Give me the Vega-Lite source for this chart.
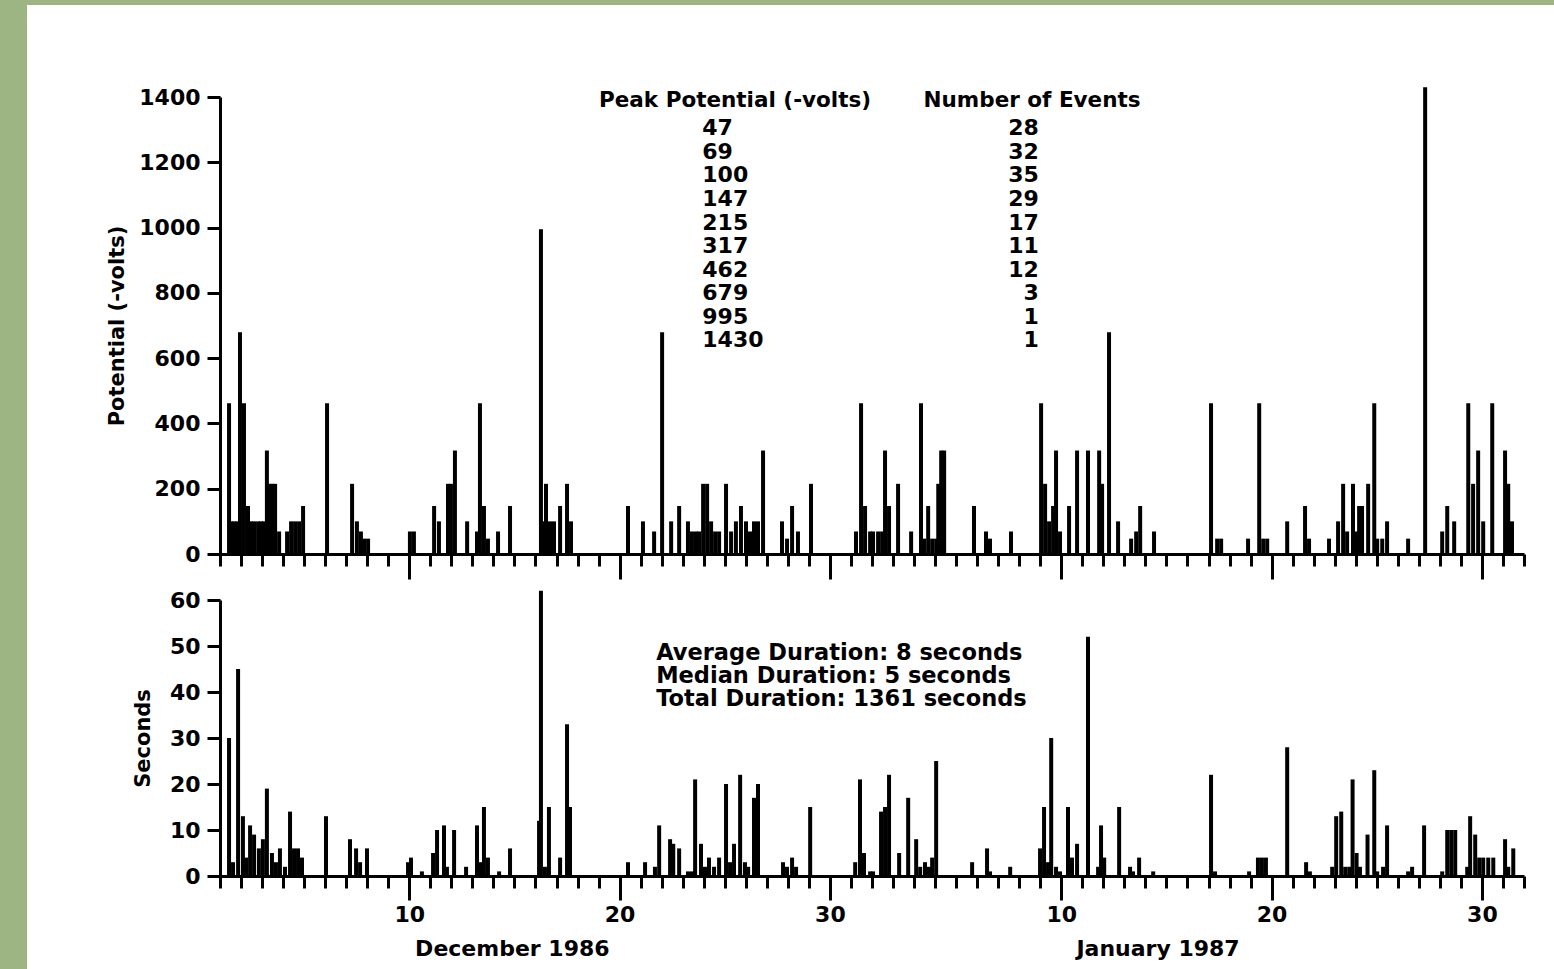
{
  "$schema": "https://vega.github.io/schema/vega-lite/v6.json",
  "padding": 0,
  "background": "white",
  "config": {
    "font": "DejaVu Sans",
    "view": {"stroke": null},
    "axis": {"grid": false, "domainColor": "#000", "domainWidth": 3, "tickColor": "#000", "tickWidth": 3, "labelColor": "#000", "labelFont": "DejaVu Sans", "labelFontSize": 22, "labelFontWeight": "bold", "titleFont": "DejaVu Sans", "titleFontSize": 21, "titleFontWeight": "bold", "titleColor": "#000"},
    "text": {"font": "DejaVu Sans", "fontSize": 22, "fontWeight": "bold", "color": "#000"}
  },
  "datasets": {
    "potential": [
      {"day":1.43,"volts":462},{"day":1.52,"volts":100},{"day":1.67,"volts":100},{"day":1.81,"volts":100},{"day":1.95,"volts":679},{"day":2.14,"volts":462},{"day":2.33,"volts":147},{"day":2.47,"volts":100},{"day":2.62,"volts":100},{"day":2.81,"volts":100},{"day":2.95,"volts":100},{"day":3.09,"volts":100},{"day":3.23,"volts":317},{"day":3.33,"volts":215},{"day":3.47,"volts":215},{"day":3.62,"volts":215},{"day":3.81,"volts":69},{"day":4.19,"volts":69},{"day":4.38,"volts":100},{"day":4.57,"volts":100},{"day":4.76,"volts":100},{"day":4.95,"volts":147},{"day":6.09,"volts":462},{"day":7.28,"volts":215},{"day":7.51,"volts":100},{"day":7.70,"volts":69},{"day":7.85,"volts":47},{"day":8.04,"volts":47},{"day":10.03,"volts":69},{"day":10.22,"volts":69},{"day":11.18,"volts":147},{"day":11.41,"volts":100},{"day":11.84,"volts":215},{"day":11.98,"volts":215},{"day":12.17,"volts":317},{"day":12.75,"volts":100},{"day":13.22,"volts":69},{"day":13.36,"volts":462},{"day":13.55,"volts":147},{"day":13.74,"volts":47},{"day":14.22,"volts":69},{"day":14.79,"volts":147},{"day":16.26,"volts":995},{"day":16.36,"volts":100},{"day":16.50,"volts":215},{"day":16.69,"volts":100},{"day":16.88,"volts":100},{"day":17.17,"volts":147},{"day":17.50,"volts":215},{"day":17.69,"volts":100},{"day":20.40,"volts":147},{"day":21.11,"volts":100},{"day":21.64,"volts":69},{"day":22.02,"volts":679},{"day":22.45,"volts":100},{"day":22.83,"volts":147},{"day":23.25,"volts":100},{"day":23.44,"volts":69},{"day":23.63,"volts":69},{"day":23.78,"volts":69},{"day":23.97,"volts":215},{"day":24.16,"volts":215},{"day":24.35,"volts":100},{"day":24.54,"volts":69},{"day":24.73,"volts":69},{"day":25.06,"volts":215},{"day":25.30,"volts":69},{"day":25.53,"volts":100},{"day":25.77,"volts":147},{"day":26.01,"volts":100},{"day":26.20,"volts":69},{"day":26.39,"volts":100},{"day":26.58,"volts":100},{"day":26.82,"volts":317},{"day":27.72,"volts":100},{"day":27.96,"volts":47},{"day":28.20,"volts":147},{"day":28.48,"volts":69},{"day":29.10,"volts":215},{"day":31.24,"volts":69},{"day":31.48,"volts":462},{"day":31.67,"volts":147},{"day":31.91,"volts":69},{"day":32.05,"volts":69},{"day":32.29,"volts":69},{"day":32.48,"volts":69},{"day":32.62,"volts":317},{"day":32.81,"volts":147},{"day":33.24,"volts":215},{"day":33.86,"volts":69},{"day":34.33,"volts":462},{"day":34.48,"volts":47},{"day":34.67,"volts":147},{"day":34.86,"volts":47},{"day":35.05,"volts":47},{"day":35.15,"volts":215},{"day":35.29,"volts":317},{"day":35.43,"volts":317},{"day":36.85,"volts":147},{"day":37.42,"volts":69},{"day":37.61,"volts":47},{"day":38.61,"volts":69},{"day":40.04,"volts":462},{"day":40.23,"volts":215},{"day":40.42,"volts":100},{"day":40.61,"volts":147},{"day":40.75,"volts":317},{"day":40.94,"volts":69},{"day":41.37,"volts":147},{"day":41.75,"volts":317},{"day":42.27,"volts":317},{"day":42.80,"volts":317},{"day":42.94,"volts":215},{"day":43.27,"volts":679},{"day":43.70,"volts":100},{"day":44.32,"volts":47},{"day":44.56,"volts":69},{"day":44.75,"volts":147},{"day":45.41,"volts":69},{"day":48.12,"volts":462},{"day":48.41,"volts":47},{"day":48.60,"volts":47},{"day":49.88,"volts":47},{"day":50.41,"volts":462},{"day":50.60,"volts":47},{"day":50.79,"volts":47},{"day":51.74,"volts":100},{"day":52.59,"volts":147},{"day":52.78,"volts":47},{"day":53.73,"volts":47},{"day":54.16,"volts":100},{"day":54.40,"volts":215},{"day":54.59,"volts":69},{"day":54.87,"volts":215},{"day":55.06,"volts":69},{"day":55.16,"volts":147},{"day":55.30,"volts":147},{"day":55.59,"volts":215},{"day":55.88,"volts":462},{"day":56.02,"volts":47},{"day":56.26,"volts":47},{"day":56.49,"volts":100},{"day":57.49,"volts":47},{"day":58.30,"volts":1430},{"day":59.11,"volts":69},{"day":59.35,"volts":147},{"day":59.68,"volts":100},{"day":60.35,"volts":462},{"day":60.58,"volts":215},{"day":60.82,"volts":317},{"day":61.06,"volts":100},{"day":61.49,"volts":462},{"day":62.10,"volts":317},{"day":62.25,"volts":215},{"day":62.43,"volts":100}
    ],
    "duration": [
      {"day":1.43,"seconds":30},{"day":1.62,"seconds":3},{"day":1.86,"seconds":45},{"day":2.09,"seconds":13},{"day":2.24,"seconds":4},{"day":2.43,"seconds":11},{"day":2.62,"seconds":9},{"day":2.85,"seconds":6},{"day":3.04,"seconds":8},{"day":3.23,"seconds":19},{"day":3.47,"seconds":5},{"day":3.66,"seconds":3},{"day":3.85,"seconds":6},{"day":4.09,"seconds":2},{"day":4.33,"seconds":14},{"day":4.52,"seconds":6},{"day":4.71,"seconds":6},{"day":4.90,"seconds":4},{"day":6.04,"seconds":13},{"day":7.18,"seconds":8},{"day":7.47,"seconds":6},{"day":7.66,"seconds":3},{"day":7.99,"seconds":6},{"day":9.94,"seconds":3},{"day":10.08,"seconds":4},{"day":10.6,"seconds":1},{"day":11.13,"seconds":5},{"day":11.32,"seconds":10},{"day":11.65,"seconds":11},{"day":11.79,"seconds":2},{"day":12.13,"seconds":10},{"day":12.70,"seconds":2},{"day":13.22,"seconds":11},{"day":13.41,"seconds":3},{"day":13.55,"seconds":15},{"day":13.74,"seconds":4},{"day":14.27,"seconds":1},{"day":14.79,"seconds":6},{"day":16.17,"seconds":12},{"day":16.26,"seconds":62},{"day":16.45,"seconds":2},{"day":16.64,"seconds":15},{"day":17.17,"seconds":4},{"day":17.50,"seconds":33},{"day":17.64,"seconds":15},{"day":20.40,"seconds":3},{"day":21.21,"seconds":3},{"day":21.68,"seconds":2},{"day":21.88,"seconds":11},{"day":22.40,"seconds":8},{"day":22.55,"seconds":7},{"day":22.83,"seconds":6},{"day":23.25,"seconds":1},{"day":23.44,"seconds":1},{"day":23.59,"seconds":21},{"day":23.87,"seconds":7},{"day":24.06,"seconds":2},{"day":24.25,"seconds":4},{"day":24.49,"seconds":2},{"day":24.73,"seconds":4},{"day":25.06,"seconds":20},{"day":25.25,"seconds":3},{"day":25.44,"seconds":7},{"day":25.73,"seconds":22},{"day":25.96,"seconds":3},{"day":26.11,"seconds":2},{"day":26.39,"seconds":17},{"day":26.58,"seconds":20},{"day":27.77,"seconds":3},{"day":27.96,"seconds":2},{"day":28.20,"seconds":4},{"day":28.39,"seconds":2},{"day":29.06,"seconds":15},{"day":31.20,"seconds":3},{"day":31.43,"seconds":21},{"day":31.62,"seconds":5},{"day":31.91,"seconds":1},{"day":32.05,"seconds":1},{"day":32.43,"seconds":14},{"day":32.62,"seconds":15},{"day":32.81,"seconds":22},{"day":33.29,"seconds":5},{"day":33.72,"seconds":17},{"day":34.10,"seconds":8},{"day":34.29,"seconds":2},{"day":34.52,"seconds":3},{"day":34.71,"seconds":2},{"day":34.86,"seconds":4},{"day":35.05,"seconds":25},{"day":36.76,"seconds":3},{"day":37.47,"seconds":6},{"day":37.61,"seconds":1},{"day":38.57,"seconds":2},{"day":39.99,"seconds":6},{"day":40.18,"seconds":15},{"day":40.37,"seconds":3},{"day":40.52,"seconds":30},{"day":40.75,"seconds":2},{"day":40.94,"seconds":1},{"day":41.32,"seconds":15},{"day":41.51,"seconds":4},{"day":41.75,"seconds":7},{"day":42.27,"seconds":52},{"day":42.75,"seconds":2},{"day":42.89,"seconds":11},{"day":43.04,"seconds":4},{"day":43.75,"seconds":15},{"day":44.27,"seconds":2},{"day":44.41,"seconds":1},{"day":44.70,"seconds":4},{"day":45.37,"seconds":1},{"day":48.12,"seconds":22},{"day":48.31,"seconds":1},{"day":49.93,"seconds":1},{"day":50.35,"seconds":4},{"day":50.54,"seconds":4},{"day":50.73,"seconds":4},{"day":51.74,"seconds":28},{"day":52.64,"seconds":3},{"day":52.82,"seconds":1},{"day":53.88,"seconds":2},{"day":54.07,"seconds":13},{"day":54.31,"seconds":14},{"day":54.50,"seconds":2},{"day":54.69,"seconds":2},{"day":54.85,"seconds":21},{"day":55.04,"seconds":5},{"day":55.20,"seconds":2},{"day":55.56,"seconds":9},{"day":55.88,"seconds":23},{"day":56.02,"seconds":1},{"day":56.30,"seconds":2},{"day":56.49,"seconds":11},{"day":57.49,"seconds":1},{"day":57.68,"seconds":2},{"day":58.25,"seconds":11},{"day":59.11,"seconds":1},{"day":59.35,"seconds":10},{"day":59.54,"seconds":10},{"day":59.73,"seconds":10},{"day":60.30,"seconds":2},{"day":60.44,"seconds":13},{"day":60.68,"seconds":9},{"day":60.87,"seconds":4},{"day":61.06,"seconds":4},{"day":61.30,"seconds":4},{"day":61.54,"seconds":4},{"day":62.10,"seconds":8},{"day":62.25,"seconds":2},{"day":62.49,"seconds":6}
    ],
    "levels": [
      {"rank":1,"peak":"47","events":"28"},{"rank":2,"peak":"69","events":"32"},{"rank":3,"peak":"100","events":"35"},{"rank":4,"peak":"147","events":"29"},{"rank":5,"peak":"215","events":"17"},{"rank":6,"peak":"317","events":"11"},{"rank":7,"peak":"462","events":"12"},{"rank":8,"peak":"679","events":"3"},{"rank":9,"peak":"995","events":"1"},{"rank":10,"peak":"1430","events":"1"}
    ]
  },
  "spacing": 0,
  "vconcat": [
    {"width": 1554, "height": 5, "view": {"fill": "#9db583", "stroke": null}, "data": {"values": [{}]}, "mark": {"type": "point", "size": 0, "opacity": 0}},
    {
      "spacing": 79,
      "hconcat": [
        {"width": 27, "height": 964, "view": {"fill": "#9db583", "stroke": null}, "data": {"values": [{}]}, "mark": {"type": "point", "size": 0, "opacity": 0}},
        {
          "spacing": 7,
          "vconcat": [
            {"width": 10, "height": 73, "data": {"values": [{}]}, "mark": {"type": "point", "size": 0, "opacity": 0}},
            {
              "width": 1304,
              "height": 457,
              "resolve": {"scale": {"y": "independent"}},
              "layer": [
                {
                  "layer": [
                    {
                      "data": {"name": "potential"},
                      "mark": {"type": "rule", "strokeWidth": 4, "color": "#000"},
                      "encoding": {
                        "x": {"field": "day", "type": "quantitative", "scale": {"domain": [1, 63], "nice": false, "zero": false},
                          "axis": {"title": null, "labels": false, "tickCount": 100, "values": [1,2,3,4,5,6,7,8,9,10,11,12,13,14,15,16,17,18,19,20,21,22,23,24,25,26,27,28,29,30,31,32,33,34,35,36,37,38,39,40,41,42,43,44,45,46,47,48,49,50,51,52,53,54,55,56,57,58,59,60,61,62,63],
                            "tickSize": {"condition": {"test": "indexof([10,20,30,41,51,61], datum.value) >= 0", "value": 25}, "value": 12}}},
                        "y": {"field": "volts", "type": "quantitative", "scale": {"domain": [0, 1400], "nice": false},
                          "axis": {"title": "Potential (-volts)", "tickCount": 20, "values": [0,200,400,600,800,1000,1200,1400], "format": "d", "tickSize": 13, "labelPadding": 7, "titlePadding": 11}},
                        "y2": {"datum": 0}
                      }
                    },
                    {
                      "data": {"values": [{}]},
                      "mark": {"type": "text", "align": "center", "baseline": "alphabetic", "fontSize": 21.5, "text": "Peak Potential (-volts)"},
                      "encoding": {"x": {"datum": 25.49, "scale": {"domain": [1, 63]}}, "y": {"datum": 1369.5, "scale": {"domain": [0, 1400]}}}
                    },
                    {
                      "data": {"values": [{}]},
                      "mark": {"type": "text", "align": "center", "baseline": "alphabetic", "fontSize": 21.5, "text": "Number of Events"},
                      "encoding": {"x": {"datum": 39.61, "scale": {"domain": [1, 63]}}, "y": {"datum": 1369.5, "scale": {"domain": [0, 1400]}}}
                    }
                  ]
                },
                {
                  "data": {"name": "levels"},
                  "layer": [
                    {
                      "mark": {"type": "text", "align": "left", "baseline": "alphabetic"},
                      "encoding": {
                        "x": {"datum": 23.93, "scale": {"domain": [1, 63]}},
                        "y": {"field": "rank", "type": "quantitative", "scale": {"domain": [-0.628, 18.78], "reverse": true, "nice": false, "zero": false}, "axis": null},
                        "text": {"field": "peak", "type": "nominal"}
                      }
                    },
                    {
                      "mark": {"type": "text", "align": "right", "baseline": "alphabetic"},
                      "encoding": {
                        "x": {"datum": 39.93, "scale": {"domain": [1, 63]}},
                        "y": {"field": "rank", "type": "quantitative", "scale": {"domain": [-0.628, 18.78], "reverse": true, "nice": false, "zero": false}, "axis": null},
                        "text": {"field": "events", "type": "nominal"}
                      }
                    }
                  ]
                }
              ]
            },
            {
              "width": 1304,
              "height": 276,
              "layer": [
                {
                  "data": {"name": "duration"},
                  "mark": {"type": "rule", "strokeWidth": 4, "color": "#000"},
                  "encoding": {
                    "x": {"field": "day", "type": "quantitative", "scale": {"domain": [1, 63], "nice": false, "zero": false},
                      "axis": {"title": null, "tickCount": 100, "values": [1,2,3,4,5,6,7,8,9,10,11,12,13,14,15,16,17,18,19,20,21,22,23,24,25,26,27,28,29,30,31,32,33,34,35,36,37,38,39,40,41,42,43,44,45,46,47,48,49,50,51,52,53,54,55,56,57,58,59,60,61,62,63],
                        "labelExpr": "indexof([10,20,30,41,51,61], datum.value) >= 0 ? (datum.value > 31 ? '' + (datum.value - 31) : '' + datum.value) : ''",
                        "labelOverlap": false, "labelFlush": false, "labelPadding": 4,
                        "tickSize": {"condition": {"test": "indexof([10,20,30,41,51,61], datum.value) >= 0", "value": 24}, "value": 12}}},
                    "y": {"field": "seconds", "type": "quantitative", "scale": {"domain": [0, 60], "nice": false},
                      "axis": {"title": "Seconds", "tickCount": 20, "values": [0,10,20,30,40,50,60], "tickSize": 13, "labelPadding": 7, "titlePadding": 16}},
                    "y2": {"datum": 0}
                  }
                },
                {
                  "data": {"values": [{}]},
                  "mark": {"type": "text", "align": "left", "baseline": "alphabetic", "fontSize": 22.5, "lineHeight": 23, "text": ["Average Duration:  8 seconds", "Median Duration:  5 seconds", "Total Duration:  1361 seconds"]},
                  "encoding": {"x": {"datum": 21.74, "scale": {"domain": [1, 63]}}, "y": {"datum": 46.96, "scale": {"domain": [0, 60]}}}
                },
                {
                  "data": {"values": [{}]},
                  "mark": {"type": "text", "align": "center", "baseline": "alphabetic", "text": "December  1986"},
                  "encoding": {"x": {"datum": 14.9, "scale": {"domain": [1, 63]}}, "y": {"datum": -17.4, "scale": {"domain": [0, 60]}}}
                },
                {
                  "data": {"values": [{}]},
                  "mark": {"type": "text", "align": "center", "baseline": "alphabetic", "text": "January  1987"},
                  "encoding": {"x": {"datum": 45.6, "scale": {"domain": [1, 63]}}, "y": {"datum": -17.4, "scale": {"domain": [0, 60]}}}
                }
              ]
            }
          ]
        }
      ]
    }
  ]
}
